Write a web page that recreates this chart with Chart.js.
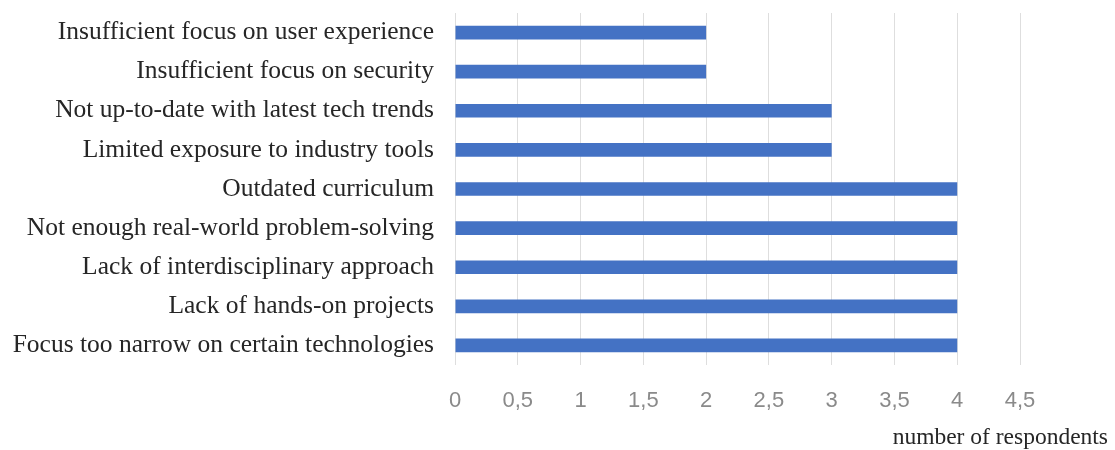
<!DOCTYPE html>
<html>
<head>
<meta charset="utf-8">
<script src="https://cdn.jsdelivr.net/npm/chart.js@4/dist/chart.umd.min.js"></script>
<style>
  html, body { margin: 0; padding: 0; background: #ffffff; }
  #wrap { width: 1115px; height: 450px; position: relative; }
</style>
</head>
<body>
<div id="wrap"><canvas id="chart"></canvas></div>
<script>
// Reasons reported by respondents, listed top to bottom
const categories = [
  'Insufficient focus on user experience',
  'Insufficient focus on security',
  'Not up-to-date with latest tech trends',
  'Limited exposure to industry tools',
  'Outdated curriculum',
  'Not enough real-world problem-solving',
  'Lack of interdisciplinary approach',
  'Lack of hands-on projects',
  'Focus too narrow on certain technologies'
];
const respondents = [2, 2, 3, 3, 4, 4, 4, 4, 4];
const axisTitle = 'number of respondents';
const axisMin = 0;
const axisMax = 4.5;
const axisStep = 0.5;

// Axis title sits below the tick labels, right-aligned past the plot edge
const axisTitlePlugin = {
  id: 'axisTitle',
  afterDraw(chart) {
    const ctx = chart.ctx;
    ctx.save();
    ctx.font = '23.5px "Liberation Serif", "Times New Roman", serif';
    ctx.fillStyle = '#262626';
    ctx.textAlign = 'right';
    ctx.textBaseline = 'middle';
    ctx.fillText(axisTitle, 1108, 438);
    ctx.restore();
  }
};

new Chart(document.getElementById('chart'), {
  type: 'bar',
  data: {
    labels: categories,
    datasets: [{
      data: respondents,
      backgroundColor: '#4472C4',
      borderWidth: 0,
      categoryPercentage: 1,
      barPercentage: 0.35
    }]
  },
  options: {
    indexAxis: 'y',
    responsive: true,
    maintainAspectRatio: false,
    animation: false,
    layout: { padding: { top: 13, right: 95, bottom: 0, left: 0 } },
    plugins: {
      legend: { display: false },
      tooltip: { enabled: false }
    },
    scales: {
      x: {
        min: axisMin,
        max: axisMax,
        afterFit(scale) {
          scale.height = 85;
          scale.paddingLeft = 0;
          scale.paddingRight = 0;
        },
        ticks: {
          stepSize: axisStep,
          padding: 23,
          color: '#8a8a8a',
          font: { family: '"Liberation Sans", Arial, sans-serif', size: 22 },
          callback: (v) => String(v).replace('.', ',')
        },
        grid: { color: '#dedede', lineWidth: 1, drawTicks: false },
        border: { display: false }
      },
      y: {
        afterFit(scale) {
          scale.width = 455;
          scale.paddingTop = 0;
          scale.paddingBottom = 0;
        },
        ticks: {
          padding: 21,
          color: '#262626',
          autoSkip: false,
          font: { family: '"Liberation Serif", "Times New Roman", serif', size: 25.5 }
        },
        grid: { display: false, drawTicks: false },
        border: { display: false }
      }
    }
  },
  plugins: [axisTitlePlugin]
});
</script>
</body>
</html>
